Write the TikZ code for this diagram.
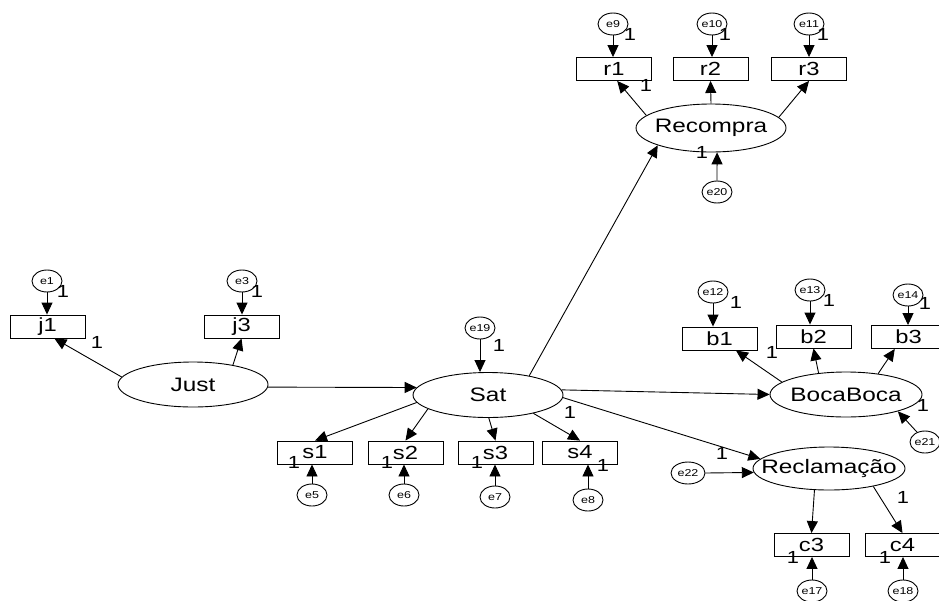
\documentclass[tikz,border=0pt]{standalone}
\usepackage{fontspec}
\setmainfont{Liberation Sans}
\newfontfamily\widesans[FakeStretch=1.25]{Liberation Sans}
\usetikzlibrary{shapes.geometric,arrows.meta}

\begin{document}
\begin{tikzpicture}[x=1pt,y=-1pt,line width=0.9pt,
  latent/.style={draw,ellipse,minimum width=150,minimum height=45,inner sep=0,
    label={[inner sep=0,font=\widesans\fontsize{19.5}{19.5}\selectfont]center:#1}},
  manifest/.style={draw,rectangle,minimum width=75,minimum height=23,inner sep=0,
    font=\widesans\fontsize{19}{19}\selectfont},
  err/.style={draw,ellipse,minimum width=30,minimum height=22,inner sep=0,
    font=\widesans\fontsize{10}{10}\selectfont},
  one/.style={inner sep=0,font=\widesans\fontsize{17.5}{17.5}\selectfont},
  reg/.style={-{Triangle[length=12pt,width=11pt]}}]

\useasboundingbox[fill=white] (0,0) rectangle (939,600);

% latent variables
\node[latent=Recompra,minimum height=48] (Recompra) at (711,128) {};
\node[latent=Just] (Just) at (193,384.5) {};
\node[latent=Sat] (Sat) at (488,395) {};
\node[latent=BocaBoca,minimum width=152] (Boca) at (846,394.5) {};
\node[latent=Reclamação,minimum width=152,minimum height=43] (Recl) at (829,468.5) {};

% indicators
\node[manifest] (r1) at (614,69) {r1};
\node[manifest] (r2) at (710.5,69) {r2};
\node[manifest] (r3) at (809,69) {r3};
\node[manifest] (j1) at (47.5,326.5) {j1};
\node[manifest] (j3) at (241.5,326.5) {j3};
\node[manifest] (s1) at (315,452.5) {s1};
\node[manifest] (s2) at (405.5,452.5) {s2};
\node[manifest] (s3) at (495.5,452.5) {s3};
\node[manifest] (s4) at (580,452.5) {s4};
\node[manifest] (b1) at (719.5,338.5) {b1};
\node[manifest] (b2) at (813.5,336.5) {b2};
\node[manifest] (b3) at (908.5,337) {b3};
\node[manifest] (c3) at (811.5,545) {c3};
\node[manifest] (c4) at (902.5,545) {c4};

% error terms
\node[err] (e9) at (613,24) {e9};
\node[err] (e10) at (712,24) {e10};
\node[err] (e11) at (809,24) {e11};
\node[err] (e20) at (717,192) {e20};
\node[err] (e1) at (47,281) {e1};
\node[err] (e3) at (242,281) {e3};
\node[err] (e19) at (480,328) {e19};
\node[err] (e5) at (312,495) {e5};
\node[err] (e6) at (404,495) {e6};
\node[err] (e7) at (495,497) {e7};
\node[err] (e8) at (588,500) {e8};
\node[err] (e12) at (713,292) {e12};
\node[err] (e13) at (810,290) {e13};
\node[err] (e14) at (908,295) {e14};
\node[err] (e21) at (925,442) {e21};
\node[err,minimum width=34] (e22) at (688,473) {e22};
\node[err] (e17) at (812,591) {e17};
\node[err] (e18) at (903,591) {e18};

% structural paths
\draw[reg] (Just.358) -- (Sat.174);
\draw[reg] (Sat.25) -- (Recompra.198);
\draw[reg] (Sat.4) -- (Boca.west);
\draw[reg] (Sat.358) -- (Recl.172);

% loadings
\draw[reg] (Recompra.169) -- (r1.285);
\draw[reg] (Recompra.north) -- (r2.south);
\draw[reg] (Recompra.9) -- (r3.south);
\draw[reg] (Just.174) -- (j1.300);
\draw[reg] (Just.26) -- (j3.south);
\draw[reg] (Sat.186) -- (s1.north);
\draw[reg] (Sat.193) -- (s2.north);
\draw[reg] (Sat.272) -- (s3.north);
\draw[reg] (Sat.338) -- (s4.north);
\draw[reg] (Boca.169) -- (b1.324);
\draw[reg] (Boca.142) -- (b2.south);
\draw[reg] (Boca.33) -- (b3.221);
\draw[reg] (Recl.236) -- (c3.north);
\draw[reg] (Recl.338) -- (c4.north);

% error arrows
\draw[reg] (e9.south) -- (e9.south |- r1.north);
\draw[reg] (e10.south) -- (e10.south |- r2.north);
\draw[reg] (e11.south) -- (e11.south |- r3.north);
\draw[reg] (e20.north) -- (Recompra.284);
\draw[reg] (e1.south) -- (e1.south |- j1.north);
\draw[reg] (e3.south) -- (e3.south |- j3.north);
\draw[reg] (e19.south) -- (e19.south |- Sat.north);
\draw[reg] (e5.north) -- (e5.north |- s1.south);
\draw[reg] (e6.north) -- (e6.north |- s2.south);
\draw[reg] (e7.north) -- (e7.north |- s3.south);
\draw[reg] (e8.north) -- (e8.north |- s4.south);
\draw[reg] (e12.south) -- (e12.south |- b1.north);
\draw[reg] (e13.south) -- (e13.south |- b2.north);
\draw[reg] (e14.south) -- (e14.south |- b3.north);
\draw[reg] (e21.129) -- (Boca.342);
\draw[reg] (e22.east) -- (Recl.183);
\draw[reg] (e17.north) -- (e17.north |- c3.south);
\draw[reg] (e18.north) -- (e18.north |- c4.south);

% fixed parameters
\node[one] (f9) at (630,34) {1};
\node[one] (f10) at (725,34) {1};
\node[one] (f11) at (823,34) {1};
\node[one] (fr1) at (646,85) {1};
\node[one] (f20) at (702,152) {1};
\node[one] (f1) at (63,291) {1};
\node[one] (f3) at (257,291) {1};
\node[one] (fj1) at (97,342) {1};
\node[one] (f19) at (499,345) {1};
\node[one] (fsat) at (570,412) {1};
\node[one] (f5) at (294,462) {1};
\node[one] (f6) at (387,462) {1};
\node[one] (f7) at (477,462) {1};
\node[one] (f8) at (603,465) {1};
\node[one] (f12) at (736,302) {1};
\node[one] (f13) at (829,300) {1};
\node[one] (f14) at (925,303) {1};
\node[one] (fb1) at (772,352) {1};
\node[one] (f21) at (923,405) {1};
\node[one] (frecl) at (722,453) {1};
\node[one] (fc4p) at (903,497) {1};
\node[one] (f17) at (793,557) {1};
\node[one] (f18) at (885,557) {1};
\end{tikzpicture}
\end{document}
